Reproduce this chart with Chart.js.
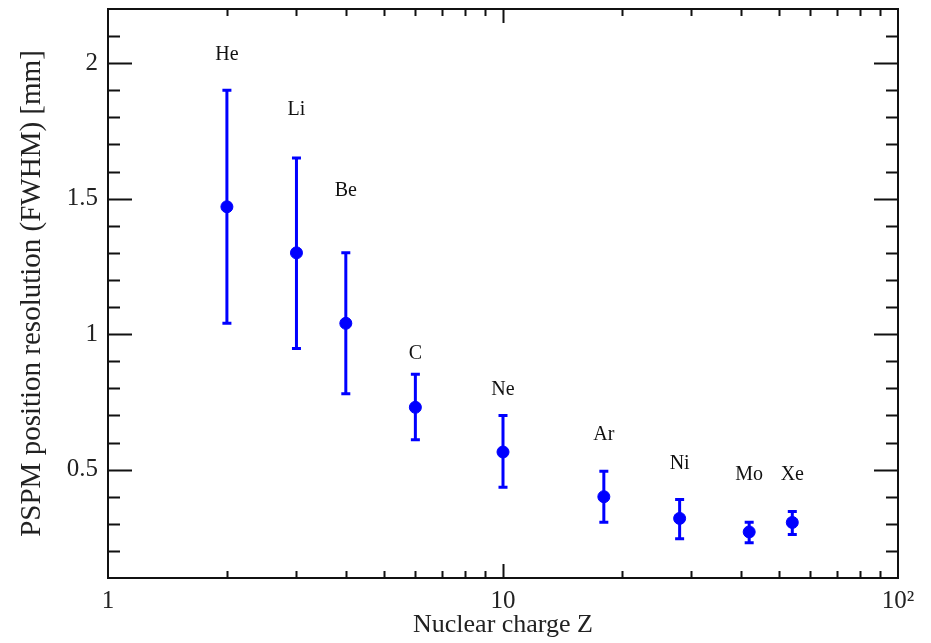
<!DOCTYPE html>
<html>
<head>
<meta charset="utf-8">
<script src="https://cdn.jsdelivr.net/npm/chart.js@4/dist/chart.umd.min.js"></script>
<style>
  body { margin: 0; background: #fff; }
  canvas { display: block; }
</style>
</head>
<body>
<canvas id="myChart" width="931" height="643"></canvas>
<script>
// Data
const elements = ["He", "Li", "Be", "C", "Ne", "Ar", "Ni", "Mo", "Xe"];
const charge = [2, 3, 4, 6, 10, 18, 28, 42, 54];
const resolution = [1.47, 1.30, 1.04, 0.73, 0.565, 0.40, 0.32, 0.27, 0.305];
const errLow = [1.04, 0.947, 0.78, 0.61, 0.435, 0.306, 0.245, 0.23, 0.261];
const errHigh = [1.90, 1.65, 1.30, 0.852, 0.70, 0.494, 0.39, 0.306, 0.345];
// where the element names sit (in data units, y axis)
const labelY = [2.03, 1.827, 1.53, 0.928, 0.794, 0.627, 0.523, 0.482, 0.482];
const yTicks = [0.5, 1, 1.5, 2];
const yTickLabels = ["0.5", "1", "1.5", "2"];
const xTicks = [1, 10, 100];
const xTickLabels = ["1", "10", "10\u00B2"];

const serif = "'Liberation Serif', 'Times New Roman', serif";
const blue = "#0000ff";

// Error bars under the points
const errorBars = {
  id: "errorBars",
  beforeDatasetsDraw(chart) {
    const ctx = chart.ctx;
    const x = chart.scales.x;
    const y = chart.scales.y;
    ctx.save();
    ctx.strokeStyle = blue;
    ctx.lineWidth = 3;
    for (let i = 0; i < charge.length; i++) {
      const px = x.getPixelForValue(charge[i]);
      const top = y.getPixelForValue(errHigh[i]);
      const bot = y.getPixelForValue(errLow[i]);
      ctx.beginPath();
      ctx.moveTo(px, top);
      ctx.lineTo(px, bot);
      ctx.moveTo(px - 4.5, top);
      ctx.lineTo(px + 4.5, top);
      ctx.moveTo(px - 4.5, bot);
      ctx.lineTo(px + 4.5, bot);
      ctx.stroke();
    }
    ctx.restore();
  }
};

// Frame with inward ticks on all four sides, plus the element names
const frame = {
  id: "frame",
  afterDatasetsDraw(chart) {
    const ctx = chart.ctx;
    const x = chart.scales.x;
    const y = chart.scales.y;
    const a = chart.chartArea;
    ctx.save();
    ctx.strokeStyle = "#111";
    ctx.lineWidth = 2;
    ctx.strokeRect(a.left, a.top, a.right - a.left, a.bottom - a.top);

    ctx.beginPath();
    // y ticks every 0.1, long ones on 0.5
    for (let k = 2; k <= 21; k++) {
      const v = k / 10;
      const py = Math.round(y.getPixelForValue(v)) + 0.5;
      const len = k % 5 === 0 ? 24 : 12;
      ctx.moveTo(a.left, py);
      ctx.lineTo(a.left + len, py);
      ctx.moveTo(a.right, py);
      ctx.lineTo(a.right - len, py);
    }
    // log x ticks
    for (let d = 1; d <= 10; d *= 10) {
      for (let m = 1; m <= 9; m++) {
        const v = m * d;
        if (v <= 1 || v >= 100) continue;
        const px = Math.round(x.getPixelForValue(v)) + 0.5;
        const len = m === 1 ? 14 : 7;
        ctx.moveTo(px, a.bottom);
        ctx.lineTo(px, a.bottom - len);
        ctx.moveTo(px, a.top);
        ctx.lineTo(px, a.top + len);
      }
    }
    ctx.stroke();

    ctx.fillStyle = "#111";
    ctx.font = "20px " + serif;
    ctx.textAlign = "center";
    ctx.textBaseline = "middle";
    for (let i = 0; i < elements.length; i++) {
      ctx.fillText(elements[i], x.getPixelForValue(charge[i]), y.getPixelForValue(labelY[i]));
    }
    ctx.restore();
  }
};

const ctx = document.getElementById("myChart").getContext("2d");

const chart = new Chart(ctx, {
  type: "scatter",
  data: {
    datasets: [{
      data: charge.map((z, i) => ({ x: z, y: resolution[i] })),
      backgroundColor: blue,
      borderColor: blue,
      pointRadius: 6,
      pointHoverRadius: 6
    }]
  },
  options: {
    responsive: false,
    animation: false,
    layout: { padding: { top: 9, right: 33, left: 0, bottom: 0 } },
    plugins: {
      legend: { display: false },
      tooltip: { enabled: false }
    },
    scales: {
      x: {
        type: "logarithmic",
        min: 1,
        max: 100,
        afterBuildTicks(scale) {
          scale.ticks = xTicks.map(v => ({ value: v }));
        },
        afterFit(scale) {
          scale.height = 65;
          scale.paddingLeft = 0;
          scale.paddingRight = 0;
        },
        grid: { display: false, drawTicks: false },
        border: { display: false },
        ticks: {
          autoSkip: false,
          maxRotation: 0,
          padding: 8,
          color: "#222",
          font: { family: serif, size: 25 },
          callback: (v) => xTickLabels[xTicks.indexOf(v)]
        },
        title: {
          display: true,
          text: "Nuclear charge Z",
          color: "#222",
          font: { family: serif, size: 26 },
          padding: { top: 0, bottom: 2 }
        }
      },
      y: {
        min: 0.1,
        max: 2.2,
        afterBuildTicks(scale) {
          scale.ticks = yTicks.map(v => ({ value: v }));
        },
        afterFit(scale) {
          scale.width = 108;
          scale.paddingTop = 0;
          scale.paddingBottom = 0;
        },
        grid: { display: false, drawTicks: false },
        border: { display: false },
        ticks: {
          padding: 10,
          color: "#222",
          font: { family: serif, size: 25 },
          callback: (v) => yTickLabels[yTicks.indexOf(v)]
        },
        title: {
          display: true,
          text: "PSPM position resolution (FWHM) [mm]",
          color: "#222",
          font: { family: serif, size: 29 },
          padding: { top: 15, bottom: 0 }
        }
      }
    }
  },
  plugins: [errorBars, frame]
});
</script>
</body>
</html>
